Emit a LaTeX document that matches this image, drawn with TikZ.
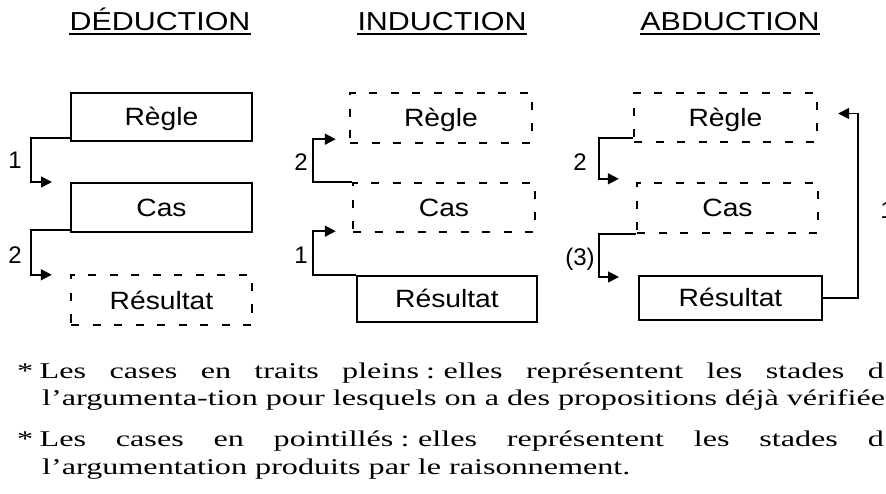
\documentclass[tikz,border=0pt]{standalone}
\usepackage{fontspec}
\setmainfont{Liberation Serif}
\setsansfont{Liberation Sans}
\usepackage{graphicx}
\usetikzlibrary{arrows.meta,calc}

\newcommand{\wide}[1]{\scalebox{1.43}[1]{#1}}
\newcommand{\etire}[1]{\scalebox{1.13}[1]{#1}}

\tikzset{
  plein/.style={draw, line width=2pt},
  pointille/.style={draw, line width=2.4pt, dash pattern=on 8pt off 13.5pt},
  lien/.style={line width=1.6pt, -{Triangle[length=11pt,width=11pt]}},
}

\begin{document}
\begin{tikzpicture}[x=1pt,y=-1pt]
\useasboundingbox (0,0) rectangle (886,494);
\fill[white] (0,0) rectangle (886,494);

\begin{scope}[every node/.style={font=\sffamily\fontsize{26}{26}\selectfont, inner sep=0pt, anchor=base}]
\node (t0) at (160,31) {\scalebox{1.17}[1]{DÉDUCTION}};
\node (t1) at (442,31) {\scalebox{1.17}[1]{INDUCTION}};
\node (t2) at (730,31) {\scalebox{1.17}[1]{ABDUCTION}};
\end{scope}

\draw[line width=2pt] ([yshift=-3pt]t0.base west) -- ([yshift=-3pt]t0.base east);
\draw[line width=2pt] ([yshift=-3pt]t1.base west) -- ([yshift=-3pt]t1.base east);
\draw[line width=2pt] ([yshift=-3pt]t2.base west) -- ([yshift=-3pt]t2.base east);

\begin{scope}[every node/.style={font=\sffamily\fontsize{25}{25}\selectfont, inner sep=0pt, text height=18pt, text depth=0pt}]
\node (0)[plein, minimum width=181pt, minimum height=48pt] at (161.5,117) {\etire{Règle}};
\node (1)[plein, minimum width=181pt, minimum height=49pt] at (161.5,207.5) {\etire{Cas}};
\node (2)[pointille, minimum width=181pt, minimum height=50pt] at (161.5,300) {\etire{Résultat}};

\node (3)[pointille, minimum width=182pt, minimum height=50pt] at (441,118) {\etire{Règle}};
\node (4)[pointille, minimum width=182pt, minimum height=49pt] at (444,207.5) {\etire{Cas}};
\node (5)[plein, minimum width=180pt, minimum height=46pt] at (447,299) {\etire{Résultat}};

\node (6)[pointille, minimum width=183pt, minimum height=49pt] at (725.5,117.5) {\etire{Règle}};
\node (7)[pointille, minimum width=181pt, minimum height=50pt] at (727.5,208) {\etire{Cas}};
\node (8)[plein, minimum width=183pt, minimum height=44pt] at (730.5,298) {\etire{Résultat}};
\end{scope}

\draw[lien] ($(0.south west)+(0,-4)$) -| ($(1.north west)+(-39,0)$) -- ($(1.north west)+(-18,0)$);
\draw[lien] ($(1.south west)+(0,-3)$) -| ($(2.north west)+(-39,1)$) -- ($(2.north west)+(-18,1)$);

\draw[lien] (4.north west) -| ($(3.south west)+(-36,-5)$) -- ($(3.south west)+(-13,-5)$);
\draw[lien] (5.north west) -| ($(4.south west)+(-39,-2)$) -- ($(4.south west)+(-16,-2)$);

\draw[lien] ($(6.south west)+(0,-5)$) -| ($(7.north west)+(-37,-3)$) -- ($(7.north west)+(-17,-3)$);
\draw[lien] (7.south west) -| ($(8.north west)+(-39,2)$) -- ($(8.north west)+(-19,2)$);
\draw[lien] (8.east) -| ($(6.east)+(40,-4)$) -- ($(6.east)+(20,-4)$);

\begin{scope}[every node/.style={font=\sffamily\fontsize{24}{24}\selectfont, inner sep=0pt}]
\node (9) at (15,160) {1};
\node (10) at (15,255) {2};
\node (11) at (301,162) {2};
\node (12) at (301,255) {1};
\node (13) at (580,162) {2};
\node (14) at (580,259) {(3)};
\node (15) at (887,210) {1};
\end{scope}

\begin{scope}[every node/.style={font=\fontsize{22.5}{22.5}\selectfont, inner sep=0pt, anchor=base west}]
\node (16) at (17,378) {\wide{\makebox[606pt][s]{*\hspace{4.5pt}Les cases en traits pleins\hspace{5pt}:\hspace{6pt}elles représentent les stades d}}};
\node (17) at (42,405) {\wide{l’argumenta-tion pour lesquels on a des propositions déjà vérifiées}};
\node (18) at (17,446) {\wide{\makebox[606pt][s]{*\hspace{4.5pt}Les cases en pointillés\hspace{5pt}:\hspace{6pt}elles représentent les stades d}}};
\node (19) at (42,474) {\wide{l’argumentation produits par le raisonnement.}};
\end{scope}

\end{tikzpicture}
\end{document}
